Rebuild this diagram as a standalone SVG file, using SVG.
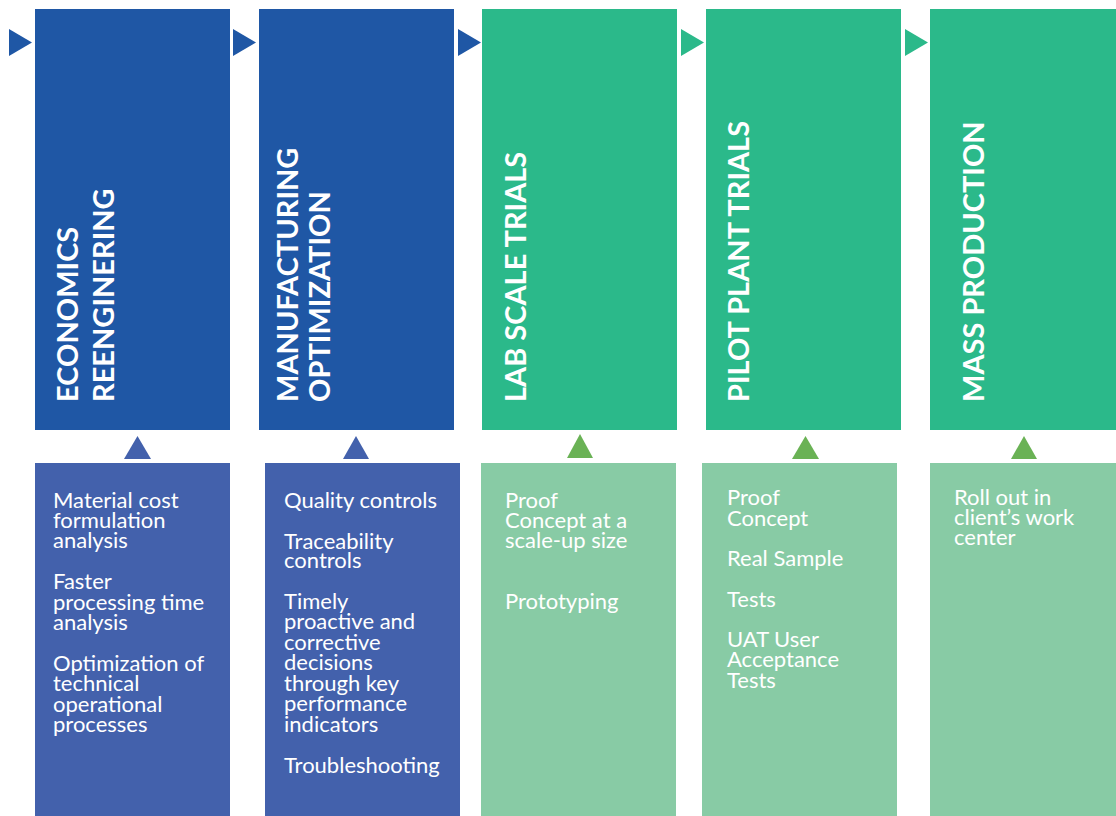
<svg xmlns="http://www.w3.org/2000/svg" width="1116" height="816" viewBox="0 0 1116 816">
<style>
.hd{fill:#1F57A5}.hg{fill:#2BB98A}.bd{fill:#4361AC}.bg{fill:#88CBA5}.tg{fill:#6AB255}
.t{font-family:Lato,"Liberation Sans",sans-serif;font-weight:bold;font-size:29px;fill:#fff}
.b{font-family:Lato,"Liberation Sans",sans-serif;font-weight:normal;font-size:22px;fill:#fff}
</style>
<rect width="1116" height="816" fill="#fff"/>
<g id="connectors">
<polygon class="hd" points="9,29 32,42.5 9,56"/>
<polygon class="hd" points="233,29 256,42.5 233,56"/>
<polygon class="hd" points="458,29 481,42.5 458,56"/>
<polygon class="hg" points="681,29 704,42.5 681,56"/>
<polygon class="hg" points="905,29 928,42.5 905,56"/>
<polygon class="bd" points="124,459 137.5,436 151,459"/>
<polygon class="bd" points="343,459 356,436 369,459"/>
<polygon class="tg" points="567,458 580,434 593,458"/>
<polygon class="tg" points="792,459 805.5,436 819,459"/>
<polygon class="tg" points="1011,459 1024,436 1037,459"/>
</g>
<g id="n1"><rect class="hd" x="35" y="9" width="195" height="421"/>
<text class="t" transform="translate(78,402) rotate(-90)">ECONOMICS</text>
<text class="t" transform="translate(114,402) rotate(-90)">REENGINERING</text></g>
<g id="n2"><rect class="hd" x="259" y="9" width="195" height="421"/>
<text class="t" transform="translate(298,402) rotate(-90)">MANUFACTURING</text>
<text class="t" transform="translate(330,402) rotate(-90)">OPTIMIZATION</text></g>
<g id="n3"><rect class="hg" x="482" y="9" width="195" height="421"/>
<text class="t" transform="translate(526,402) rotate(-90)">LAB SCALE TRIALS</text></g>
<g id="n4"><rect class="hg" x="706" y="9" width="195" height="421"/>
<text class="t" transform="translate(749,402) rotate(-90)">PILOT PLANT TRIALS</text></g>
<g id="n5"><rect class="hg" x="930" y="9" width="186" height="421"/>
<text class="t" transform="translate(984,402) rotate(-90)">MASS PRODUCTION</text></g>
<g id="d1"><rect class="bd" x="35" y="463" width="195" height="353"/>
<text class="b" x="53" y="508">Material cost</text>
<text class="b" x="53" y="528">formulation</text>
<text class="b" x="53" y="548">analysis</text>
<text class="b" x="53" y="589">Faster</text>
<text class="b" x="53" y="610">processing time</text>
<text class="b" x="53" y="630">analysis</text>
<text class="b" x="53" y="671">Optimization of</text>
<text class="b" x="53" y="691">technical</text>
<text class="b" x="53" y="712">operational</text>
<text class="b" x="53" y="732">processes</text></g>
<g id="d2"><rect class="bd" x="265" y="463" width="195" height="353"/>
<text class="b" x="284" y="508">Quality controls</text>
<text class="b" x="284" y="549">Traceability</text>
<text class="b" x="284" y="568">controls</text>
<text class="b" x="284" y="609">Timely</text>
<text class="b" x="284" y="629">proactive and</text>
<text class="b" x="284" y="650">corrective</text>
<text class="b" x="284" y="670">decisions</text>
<text class="b" x="284" y="691">through key</text>
<text class="b" x="284" y="711">performance</text>
<text class="b" x="284" y="732">indicators</text>
<text class="b" x="284" y="773">Troubleshooting</text></g>
<g id="d3"><rect class="bg" x="481" y="463" width="195" height="353"/>
<text class="b" x="505" y="508">Proof</text>
<text class="b" x="505" y="528">Concept at a</text>
<text class="b" x="505" y="548">scale-up size</text>
<text class="b" x="505" y="609">Prototyping</text></g>
<g id="d4"><rect class="bg" x="702" y="463" width="195" height="353"/>
<text class="b" x="727" y="505">Proof</text>
<text class="b" x="727" y="526">Concept</text>
<text class="b" x="727" y="566">Real Sample</text>
<text class="b" x="727" y="607">Tests</text>
<text class="b" x="727" y="647">UAT User</text>
<text class="b" x="727" y="667">Acceptance</text>
<text class="b" x="727" y="688">Tests</text></g>
<g id="d5"><rect class="bg" x="930" y="463" width="186" height="353"/>
<text class="b" x="954" y="505">Roll out in</text>
<text class="b" x="954" y="525">client’s work</text>
<text class="b" x="954" y="545">center</text></g>
</svg>
